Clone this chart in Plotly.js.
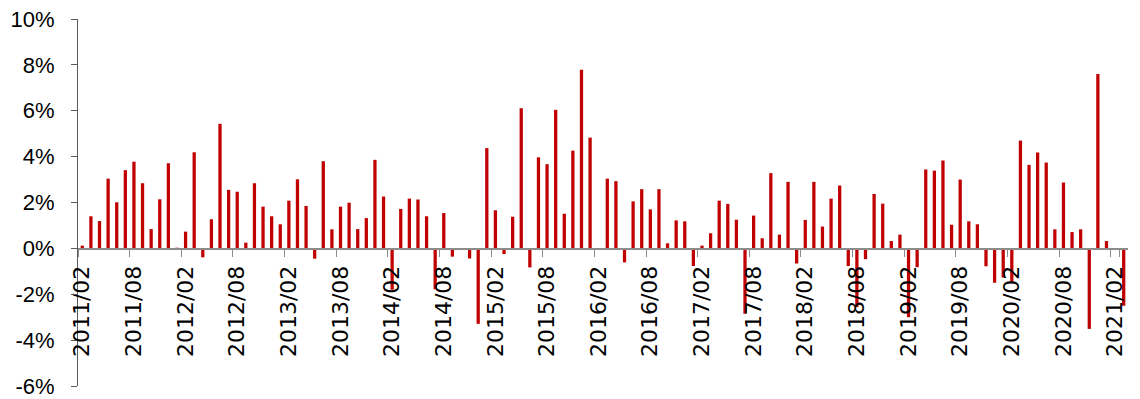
<!DOCTYPE html>
<html>
<head>
<meta charset="utf-8">
<script src="https://cdn.plot.ly/plotly-3.0.1.min.js"></script>
<style>
html,body{margin:0;padding:0;background:#fff;}
#chart{width:1140px;height:399px;}
</style>
</head>
<body>
<div id="chart"></div>
<script>
const months = [
 "2011/02","2011/03","2011/04","2011/05","2011/06","2011/07","2011/08","2011/09","2011/10","2011/11","2011/12",
 "2012/01","2012/02","2012/03","2012/04","2012/05","2012/06","2012/07","2012/08","2012/09","2012/10","2012/11","2012/12",
 "2013/01","2013/02","2013/03","2013/04","2013/05","2013/06","2013/07","2013/08","2013/09","2013/10","2013/11","2013/12",
 "2014/01","2014/02","2014/03","2014/04","2014/05","2014/06","2014/07","2014/08","2014/09","2014/10","2014/11","2014/12",
 "2015/01","2015/02","2015/03","2015/04","2015/05","2015/06","2015/07","2015/08","2015/09","2015/10","2015/11","2015/12",
 "2016/01","2016/02","2016/03","2016/04","2016/05","2016/06","2016/07","2016/08","2016/09","2016/10","2016/11","2016/12",
 "2017/01","2017/02","2017/03","2017/04","2017/05","2017/06","2017/07","2017/08","2017/09","2017/10","2017/11","2017/12",
 "2018/01","2018/02","2018/03","2018/04","2018/05","2018/06","2018/07","2018/08","2018/09","2018/10","2018/11","2018/12",
 "2019/01","2019/02","2019/03","2019/04","2019/05","2019/06","2019/07","2019/08","2019/09","2019/10","2019/11","2019/12",
 "2020/01","2020/02","2020/03","2020/04","2020/05","2020/06","2020/07","2020/08","2020/09","2020/10","2020/11","2020/12",
 "2021/01","2021/02","2021/03"
];

const returnsPct = [
 0.12, 1.40, 1.19, 3.04, 2.01, 3.41, 3.78, 2.84, 0.84, 2.14, 3.71,
 0.03, 0.73, 4.19, -0.39, 1.27, 5.43, 2.55, 2.47, 0.25, 2.84, 1.82, 1.40,
 1.05, 2.08, 3.01, 1.85, -0.45, 3.80, 0.83, 1.82, 1.99, 0.84, 1.32, 3.86,
 2.26, -1.80, 1.72, 2.17, 2.13, 1.40, -1.78, 1.54, -0.36, -0.07, -0.44, -3.29,
 4.37, 1.66, -0.25, 1.38, 6.11, -0.83, 3.97, 3.67, 6.04, 1.51, 4.26, 7.79,
 4.83, -0.03, 3.04, 2.93, -0.61, 2.05, 2.58, 1.70, 2.58, 0.22, 1.22, 1.18,
 -0.77, 0.12, 0.66, 2.08, 1.94, 1.25, -2.85, 1.43, 0.44, 3.28, 0.60, 2.90,
 -0.66, 1.24, 2.90, 0.95, 2.17, 2.74, -0.77, -2.56, -0.47, 2.37, 1.95, 0.32,
 0.60, -3.00, -0.82, 3.44, 3.39, 3.83, 1.03, 3.00, 1.18, 1.05, -0.78, -1.50,
 -1.27, -1.45, 4.70, 3.64, 4.18, 3.74, 0.83, 2.87, 0.71, 0.83, -3.51, 7.60,
 0.32, 0.00, -2.50
];

const xTickLabels = ["2011/02","2011/08","2012/02","2012/08","2013/02","2013/08","2014/02","2014/08",
 "2015/02","2015/08","2016/02","2016/08","2017/02","2017/08","2018/02","2018/08","2019/02","2019/08",
 "2020/02","2020/08","2021/02"];

const yTickVals = [-6, -4, -2, 0, 2, 4, 6, 8, 10];
const yTickText = ["-6%", "-4%", "-2%", "0%", "2%", "4%", "6%", "8%", "10%"];

const trace = {
  type: 'bar',
  x: months,
  y: returnsPct,
  marker: {color: '#C00000', line: {width: 0}},
  hoverinfo: 'x+y'
};

const layout = {
  width: 1140,
  height: 399,
  margin: {l: 78, r: 12, t: 19, b: 13, pad: 0},
  paper_bgcolor: '#ffffff',
  plot_bgcolor: '#ffffff',
  showlegend: false,
  bargap: 0.62,
  xaxis: {
    type: 'category',
    categoryorder: 'array',
    categoryarray: months,
    range: [-0.5, months.length - 0.5],
    anchor: 'free',
    position: 6 / 16,
    showline: true,
    linecolor: '#8c8c8c',
    linewidth: 1.5,
    showgrid: false,
    zeroline: false,
    tickmode: 'array',
    tickvals: xTickLabels,
    ticktext: xTickLabels,
    tickson: 'boundaries',
    ticks: 'outside',
    ticklen: 7,
    tickwidth: 1,
    tickcolor: '#8c8c8c',
    tickangle: -90,
    ticklabelstandoff: 7,
    tickfont: {family: 'DejaVu Sans', size: 22, color: '#000000'}
  },
  yaxis: {
    range: [-6, 10],
    domain: [0, 1],
    showline: true,
    linecolor: '#595959',
    linewidth: 1,
    showgrid: false,
    zeroline: false,
    tickmode: 'array',
    tickvals: yTickVals,
    ticktext: yTickText,
    ticks: 'outside',
    ticklen: 6,
    tickwidth: 1,
    tickcolor: '#595959',
    ticklabelstandoff: 12,
    tickfont: {family: 'Liberation Sans, Arial, sans-serif', size: 22, color: '#000000'}
  }
};

Plotly.newPlot('chart', [trace], layout, {displayModeBar: false, staticPlot: true});
</script>
</body>
</html>
